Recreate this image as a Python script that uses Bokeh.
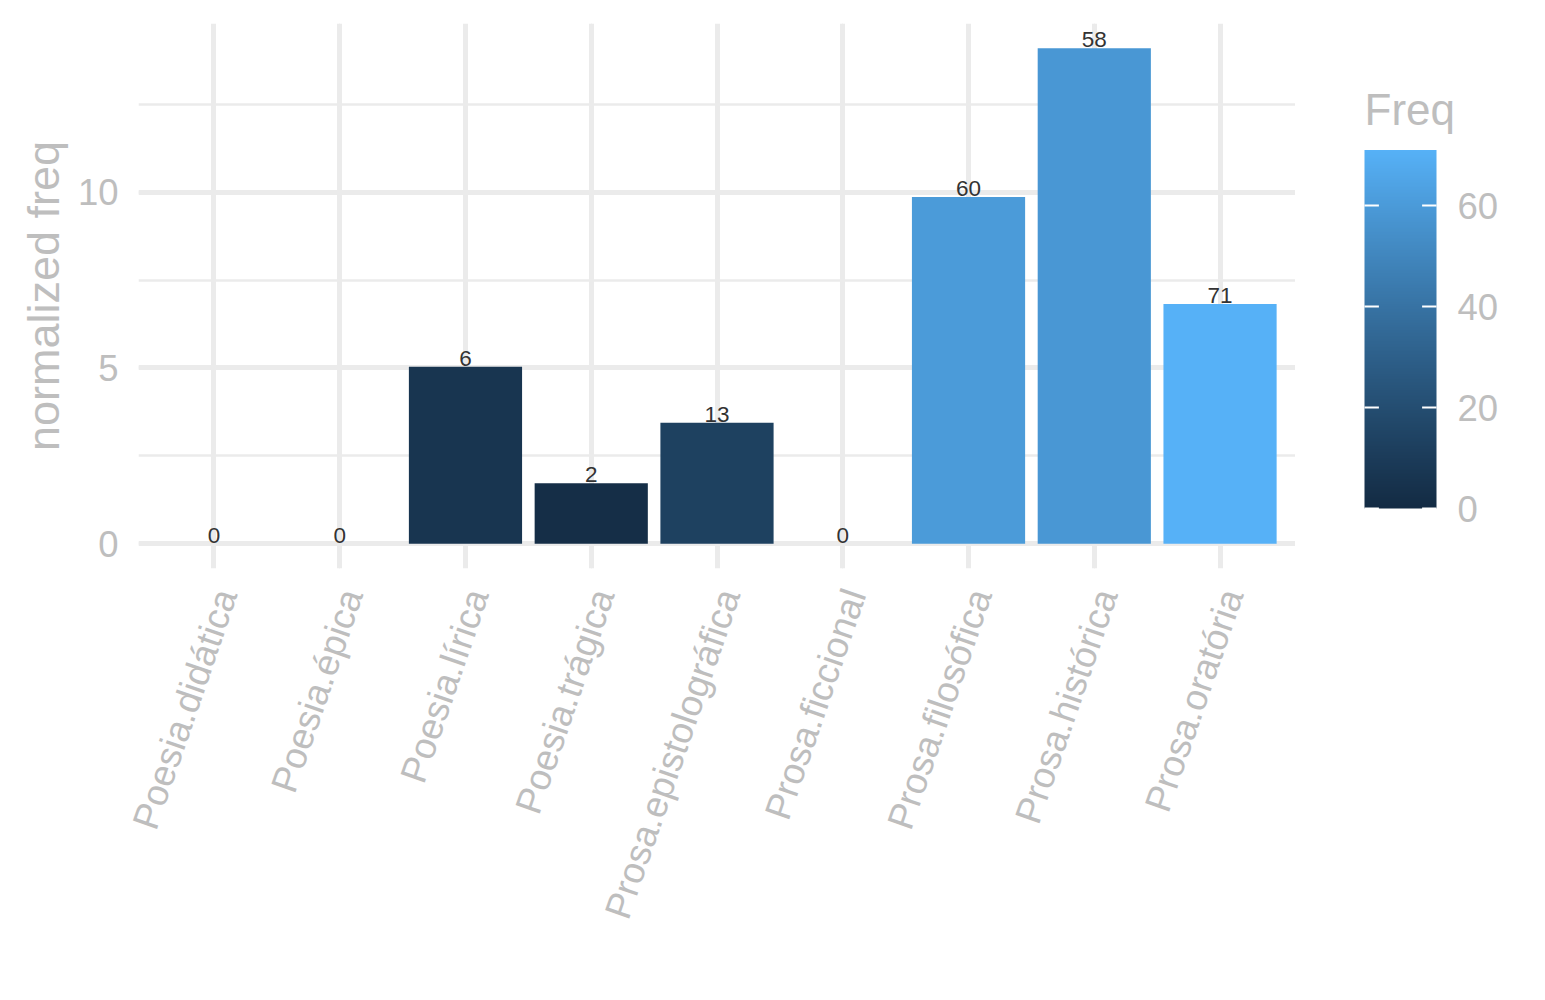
import math
import numpy as np
from bokeh.plotting import figure
from bokeh.layouts import row
from bokeh.models import (ColumnDataSource, Range1d, LinearColorMapper, Grid,
                          SingleIntervalTicker, FixedTicker, LinearAxis)
from bokeh.core.properties import value
from bokeh.embed import file_html
from bokeh.resources import INLINE

# ---------------- data ----------------
categories = ["Poesia.didática", "Poesia.épica", "Poesia.lírica", "Poesia.trágica",
              "Prosa.epistolográfica", "Prosa.ficcional", "Prosa.filosófica",
              "Prosa.histórica", "Prosa.oratória"]
normalized_freq = [0, 0, 5.03, 1.72, 3.44, 0, 9.86, 14.09, 6.82]
freq = [0, 0, 6, 2, 13, 0, 60, 58, 71]
y_ticks = [0, 5, 10]
freq_ticks = [0, 20, 40, 60]
legend_title = "Freq"
y_title = "normalized freq"

# ---------------- style ----------------
FONT = "Liberation Sans"
TXT = "#BEBEBE"
GRID = "#EBEBEB"
LOW, HIGH = "#132B43", "#56B1F7"

# layout (pixels)
FRAME_TOP, FRAME_H = 23, 545
FRAME_LEFT, FRAME_W = 138, 1157
TOTAL_H = 984
LEG_W = 1529 - (FRAME_LEFT + FRAME_W)
BAR_LEFT, BAR_W = 69, 72                   # colour bar inside legend figure
BAR_TOP_PX, BAR_BOTTOM_PX = 149.5, 508.0   # page pixels of colour bar
TITLE_TOP_PX = 84
LABEL_SHIFT_PX = 12                        # rotated tick labels sit right of ticks


def _hex_to_lab(h):
    r, g, b = [int(h[i:i + 2], 16) / 255 for i in (1, 3, 5)]

    def lin(c):
        return c / 12.92 if c <= 0.04045 else ((c + 0.055) / 1.055) ** 2.4
    r, g, b = lin(r), lin(g), lin(b)
    X = 0.4124564 * r + 0.3575761 * g + 0.1804375 * b
    Y = 0.2126729 * r + 0.7151522 * g + 0.0721750 * b
    Z = 0.0193339 * r + 0.1191920 * g + 0.9503041 * b

    def f(t):
        return t ** (1 / 3) if t > 216 / 24389 else (24389 / 27 * t + 16) / 116
    fx, fy, fz = f(X / 0.95047), f(Y), f(Z / 1.08883)
    return (116 * fy - 16, 500 * (fx - fy), 200 * (fy - fz))


def _lab_to_hex(L, a, b):
    fy = (L + 16) / 116
    fx = fy + a / 500
    fz = fy - b / 200

    def finv(t):
        return t ** 3 if t ** 3 > 216 / 24389 else (116 * t - 16) / (24389 / 27)
    X, Y, Z = finv(fx) * 0.95047, finv(fy), finv(fz) * 1.08883
    r = 3.2404542 * X - 1.5371385 * Y - 0.4985314 * Z
    g = -0.9692660 * X + 1.8760108 * Y + 0.0415560 * Z
    bb = 0.0556434 * X - 0.2040259 * Y + 1.0572252 * Z

    def gam(c):
        c = min(max(c, 0.0), 1.0)
        return 12.92 * c if c <= 0.0031308 else 1.055 * c ** (1 / 2.4) - 0.055
    return "#%02x%02x%02x" % tuple(int(round(gam(c) * 255)) for c in (r, g, bb))


_l0, _l1 = _hex_to_lab(LOW), _hex_to_lab(HIGH)
palette = [_lab_to_hex(*[a + (b - a) * k / 255 for a, b in zip(_l0, _l1)]) for k in range(256)]
fmin, fmax = min(freq), max(freq)
mapper = LinearColorMapper(palette=palette, low=fmin, high=fmax)

# ---------------- main chart ----------------
ncat = len(categories)
xpos = [i + 1 for i in range(ncat)]        # category slots on the x scale
src = ColumnDataSource(dict(x=xpos, cat=categories, nf=normalized_freq, freq=freq,
                            lab=[str(v) for v in freq]))
ymax = max(normalized_freq)

p = figure(x_range=Range1d(0.4, ncat + 0.6),
           y_range=Range1d(-0.05 * ymax, 1.05 * ymax),
           frame_width=FRAME_W, frame_height=FRAME_H,
           min_border_left=FRAME_LEFT, min_border_top=FRAME_TOP, min_border_right=0,
           min_border_bottom=TOTAL_H - FRAME_TOP - FRAME_H,
           x_axis_location=None,
           output_backend="svg", toolbar_location=None)
p.outline_line_color = None
p.background_fill_color = "white"
p.border_fill_color = "white"

p.vbar(x="x", top="nf", width=0.9, source=src,
       fill_color={"field": "freq", "transform": mapper}, line_color=None)
p.text(x="x", y="nf", text="lab", source=src, text_align="center",
       text_baseline="bottom", y_offset=-1, text_font=value(FONT), text_font_size="22.5px",
       text_color="#333333")

# vertical grid lines at the category slots
p.add_layout(Grid(dimension=0, ticker=FixedTicker(ticks=xpos),
                  grid_line_color=GRID, grid_line_width=5))

yticker = SingleIntervalTicker(interval=5, num_minor_ticks=2)
p.yaxis.ticker = yticker
p.ygrid.ticker = yticker
p.ygrid.grid_line_color = GRID
p.ygrid.grid_line_width = 5
p.ygrid.minor_grid_line_color = GRID
p.ygrid.minor_grid_line_width = 2.5

# category labels: axis on a twin range, shifted so rotated labels sit right of ticks
shift = LABEL_SHIFT_PX * (ncat + 0.2) / FRAME_W
p.extra_x_ranges = {"labels": Range1d(0.4 - shift, ncat + 0.6 - shift)}
lab_axis = LinearAxis(x_range_name="labels",
                      ticker=FixedTicker(ticks=xpos),
                      major_label_overrides={x: c for x, c in zip(xpos, categories)})
p.add_layout(lab_axis, "below")

p.yaxis.axis_label = y_title
for ax in (lab_axis, p.yaxis[0]):
    ax.axis_line_color = None
    ax.major_tick_line_color = None
    ax.minor_tick_line_color = None
    ax.major_tick_out = 0
    ax.major_tick_in = 0
    ax.major_label_text_font = FONT
    ax.major_label_text_color = TXT
    ax.major_label_text_font_size = "36.5px"
    ax.axis_label_text_font = FONT
    ax.axis_label_text_color = TXT
    ax.axis_label_text_font_size = "45px"
    ax.axis_label_text_font_style = "normal"
lab_axis.major_label_text_font_size = "37px"
p.yaxis.major_label_standoff = 16
p.yaxis.axis_label_standoff = 6
lab_axis.major_label_orientation = math.radians(71)
lab_axis.major_label_standoff = 22

# ---------------- colour bar legend ----------------
ppu = (BAR_BOTTOM_PX - BAR_TOP_PX) / (fmax - fmin)
leg_lo = fmin - (FRAME_TOP + FRAME_H - BAR_BOTTOM_PX) / ppu
leg_hi = fmax + (BAR_TOP_PX - FRAME_TOP) / ppu

p2 = figure(x_range=Range1d(0, LEG_W), y_range=Range1d(leg_lo, leg_hi),
            frame_width=LEG_W, frame_height=FRAME_H,
            min_border_left=0, min_border_top=FRAME_TOP, min_border_right=0,
            min_border_bottom=TOTAL_H - FRAME_TOP - FRAME_H,
            output_backend="svg", toolbar_location=None,
            x_axis_location=None, y_axis_location=None)
p2.outline_line_color = None
p2.grid.visible = False
for r in p2.center:
    if isinstance(r, Grid):
        r.visible = False
p2.background_fill_color = "white"
p2.border_fill_color = "white"
p2.image(image=[np.linspace(fmin, fmax, 256).reshape(-1, 1)], x=BAR_LEFT, y=fmin,
         dw=BAR_W, dh=fmax - fmin, color_mapper=mapper)
n = len(freq_ticks)
tick_len = BAR_W / 5
p2.segment(x0=[BAR_LEFT] * n, x1=[BAR_LEFT + tick_len] * n, y0=freq_ticks, y1=freq_ticks,
           line_color="white", line_width=2)
p2.segment(x0=[BAR_LEFT + BAR_W - tick_len] * n, x1=[BAR_LEFT + BAR_W] * n,
           y0=freq_ticks, y1=freq_ticks, line_color="white", line_width=2)
p2.text(x=[BAR_LEFT + BAR_W + 21] * n, y=freq_ticks, text=[str(t) for t in freq_ticks],
        text_align="left", text_baseline="middle", text_font=value(FONT),
        text_font_size="36.5px", text_color=TXT)
p2.text(x=[BAR_LEFT], y=[fmax + (BAR_TOP_PX - TITLE_TOP_PX) / ppu], text=[legend_title],
        text_align="left", text_baseline="top", text_font=value(FONT),
        text_font_size="44px", text_color=TXT)

layout = row(p, p2)
open("out.html", "w").write(file_html(layout, INLINE))
